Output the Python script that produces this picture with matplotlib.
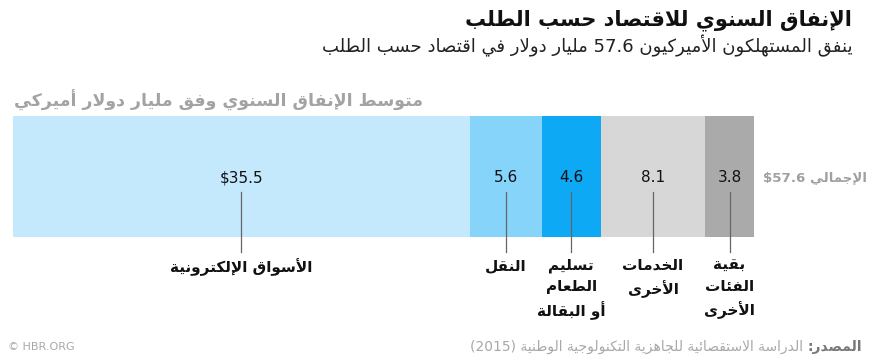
import re
import matplotlib
matplotlib.use("Agg")
import matplotlib.pyplot as plt

# --- data ---
categories = ["الأسواق الإلكترونية", "النقل", "تسليم\nالطعام\nأو البقالة",
              "الخدمات\nالأخرى", "بقية\nالفئات\nالأخرى"]
values = [35.5, 5.6, 4.6, 8.1, 3.8]
value_labels = ["$35.5", "5.6", "4.6", "8.1", "3.8"]
colors = ["#c4e9fd", "#86d4f9", "#0ea9f5", "#d7d7d7", "#aaaaaa"]
total = 57.6

title = "الإنفاق السنوي للاقتصاد حسب الطلب"
subtitle = "ينفق المستهلكون الأميركيون 57.6 مليار دولار في اقتصاد حسب الطلب"
axis_label = "متوسط الإنفاق السنوي وفق مليار دولار أميركي"
total_label = "الإجمالي $57.6"
source_head = "المصدر:"
source_body = "الدراسة الاستقصائية للجاهزية التكنولوجية الوطنية (2015)"

# --- minimal arabic shaping + bidi (matplotlib has no complex text layout) ---
D, R, U = "D", "R", "U"
FORMS = {
    "\u0621": (0xFE80, U), "\u0622": (0xFE81, R), "\u0623": (0xFE83, R),
    "\u0624": (0xFE85, R), "\u0625": (0xFE87, R), "\u0626": (0xFE89, D),
    "\u0627": (0xFE8D, R), "\u0628": (0xFE8F, D), "\u0629": (0xFE93, R),
    "\u062A": (0xFE95, D), "\u062B": (0xFE99, D), "\u062C": (0xFE9D, D),
    "\u062D": (0xFEA1, D), "\u062E": (0xFEA5, D), "\u062F": (0xFEA9, R),
    "\u0630": (0xFEAB, R), "\u0631": (0xFEAD, R), "\u0632": (0xFEAF, R),
    "\u0633": (0xFEB1, D), "\u0634": (0xFEB5, D), "\u0635": (0xFEB9, D),
    "\u0636": (0xFEBD, D), "\u0637": (0xFEC1, D), "\u0638": (0xFEC5, D),
    "\u0639": (0xFEC9, D), "\u063A": (0xFECD, D), "\u0641": (0xFED1, D),
    "\u0642": (0xFED5, D), "\u0643": (0xFED9, D), "\u0644": (0xFEDD, D),
    "\u0645": (0xFEE1, D), "\u0646": (0xFEE5, D), "\u0647": (0xFEE9, D),
    "\u0648": (0xFEED, R), "\u0649": (0xFEEF, R), "\u064A": (0xFEF1, D),
}
LAM_ALEF = {"\u0622": 0xFEF5, "\u0623": 0xFEF7, "\u0625": 0xFEF9, "\u0627": 0xFEFB}


def shape(s):
    units = []
    i = 0
    while i < len(s):
        c = s[i]
        if c == "\u0644" and i + 1 < len(s) and s[i + 1] in LAM_ALEF:
            units.append((LAM_ALEF[s[i + 1]], R))
            i += 2
            continue
        units.append(FORMS.get(c, (c, None)))
        i += 1
    out = []
    for k, (b, t) in enumerate(units):
        if t is None:
            out.append(b)
            continue
        prev = units[k - 1] if k > 0 else None
        nxt = units[k + 1] if k + 1 < len(units) else None
        jp = t in (R, D) and prev is not None and prev[1] == D
        jn = t == D and nxt is not None and nxt[1] in (R, D)
        off = 0
        if t != U:
            off = 3 if (jp and jn) else 1 if jp else 2 if jn else 0
        out.append(chr(b + off))
    return "".join(out)


def ar(s):
    lines = []
    for line in s.split("\n"):
        runs = re.split(r"(\$?[0-9][0-9.]*|\([0-9]+\))", shape(line))
        vis = [r if re.fullmatch(r"\$?[0-9][0-9.]*|\([0-9]+\)", r) else r[::-1]
               for r in runs if r]
        lines.append("".join(vis[::-1]))
    return "\n".join(lines)


W, H = 874, 361
plt.rcParams["font.family"] = ["DejaVu Sans"]
fig = plt.figure(figsize=(W / 100, H / 100), dpi=100)


def px(x, y):
    return x / W, 1 - y / H


fig.text(*px(852, 20), ar(title), ha="right", va="center", fontsize=15,
         fontweight="bold", color="#111111")
fig.text(*px(852, 46), ar(subtitle), ha="right", va="center", fontsize=13,
         color="#222222")
fig.text(*px(14, 100), ar(axis_label), ha="left", va="center", fontsize=12.5,
         fontweight="bold", color="#a3a3a3")

# bar axes: x in value units, y in pixel rows
ax = fig.add_axes([13 / W, 0, 741 / W, 1])
ax.set_xlim(0, total)
ax.set_ylim(H, 0)
ax.axis("off")

lefts = [sum(values[:i]) for i in range(len(values))]
ax.barh(176.5, values, left=lefts, height=121, color=colors, linewidth=0)

for left, v, lab, cat in zip(lefts, values, value_labels, categories):
    cx = left + v / 2
    ax.text(cx, 178, lab, ha="center", va="center", fontsize=11, color="#111111")
    ax.plot([cx, cx], [192, 252], color="#666666", lw=0.9, clip_on=False)
    ax.text(cx, 258, ar(cat), ha="center", va="top", fontsize=11,
            fontweight="bold", color="#111111", linespacing=1.5,
            multialignment="center")

fig.text(*px(867, 178), ar(total_label), ha="right", va="center", fontsize=9.6,
         fontweight="bold", color="#a0a0a0")

# footer
fig.text(*px(8, 347), "© HBR.ORG", ha="left", va="center", fontsize=8,
         color="#a8a8a8")
head = fig.text(*px(862, 347), ar(source_head), ha="right", va="center",
                fontsize=10, fontweight="bold", color="#777777")
fig.canvas.draw()
bb = head.get_window_extent(fig.canvas.get_renderer())
fig.text(bb.x0 / W - 4 / W, 1 - 347 / H, ar(source_body), ha="right",
         va="center", fontsize=10, color="#a8a8a8")

fig.savefig("out.png", dpi=100)
